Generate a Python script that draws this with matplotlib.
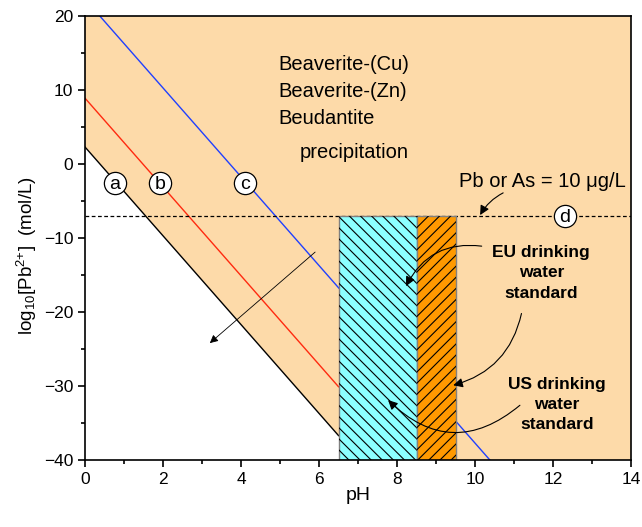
import matplotlib
matplotlib.use('Agg')
import matplotlib.pyplot as plt
from matplotlib.patches import Rectangle, Polygon

plt.rcParams['font.family'] = ['Liberation Sans', 'DejaVu Sans']
plt.rcParams['mathtext.fontset'] = 'custom'
plt.rcParams['mathtext.rm'] = 'Liberation Sans'
plt.rcParams['mathtext.default'] = 'regular'
plt.rcParams['hatch.linewidth'] = 0.8

# boundary lines (pH, log10[Pb2+])
line_a_ph = [0, 6.5]
line_a_log = [2.3, -36.7]
line_b_ph = [0, 6.5]
line_b_log = [8.9, -30.1]
line_c_ph = [0.38, 10.38]
line_c_log = [20, -40]

# precipitation area (above line a)
field_ph = [0, 7.05, 14, 14, 0]
field_log = [2.3, -40, -40, 20, 20]

limit_log = -7   # Pb or As = 10 ug/L
eu_ph = [6.5, 8.5]
us_ph = [8.5, 9.5]

labels = ['a', 'b', 'c', 'd']
label_ph = [0.77, 1.92, 4.1, 12.3]
label_log = [-2.6, -2.6, -2.6, -7]

peach = '#FDDAA9'

fig = plt.figure(figsize=(6.42, 5.27), dpi=100)
ax = fig.add_axes([0.1324, 0.1271, 0.8506, 0.8425])

ax.add_patch(Polygon(list(zip(field_ph, field_log)), closed=True, facecolor=peach, edgecolor='none', zorder=0))

ax.plot(line_c_ph, line_c_log, color='#2040FF', lw=1, zorder=1)
ax.plot(line_b_ph, line_b_log, color='#FF2A10', lw=1, zorder=1)
ax.plot(line_a_ph, line_a_log, color='k', lw=1, zorder=1)

ax.axhline(limit_log, color='k', lw=0.9, ls=(0, (3, 2)), zorder=1)

for (x0, x1), fc, h in [(eu_ph, '#8CFFFF', '\\\\\\'), (us_ph, '#FF9900', '///')]:
    ax.add_patch(Rectangle((x0, -40), x1 - x0, limit_log + 40, facecolor=fc,
                           edgecolor='#808080', lw=1, zorder=2))
    ax.add_patch(Rectangle((x0, -40), x1 - x0, limit_log + 40, facecolor='none',
                           edgecolor='k', lw=0, hatch=h, zorder=2))

for lab, x, y in zip(labels, label_ph, label_log):
    ax.plot(x, y, 'o', ms=16, mfc='white', mec='k', mew=0.9, zorder=4)
    ax.text(x, y - 0.2, lab, ha='center', va='center', fontsize=14, zorder=5)

ax.text(4.95, 13.5, 'Beaverite-(Cu)', fontsize=14.5, va='center')
ax.text(4.95, 9.8, 'Beaverite-(Zn)', fontsize=14.5, va='center')
ax.text(4.95, 6.1, 'Beudantite', fontsize=14.5, va='center')
ax.text(5.5, 1.6, 'precipitation', fontsize=14.5, va='center')
ax.text(11.72, -2.3, 'Pb or As = 10 \u03bcg/L', fontsize=14.5, ha='center', va='center')

ax.text(11.7, -14.7, 'EU drinking\nwater\nstandard', fontsize=12.5, fontweight='bold',
        ha='center', va='center', linespacing=1.45)
ax.text(12.1, -32.5, 'US drinking\nwater\nstandard', fontsize=12.5, fontweight='bold',
        ha='center', va='center', linespacing=1.45)

arrow = dict(arrowstyle='-|>', color='k', lw=0.8, mutation_scale=14, shrinkA=0, shrinkB=0)
ax.annotate('', xy=(10.13, -6.9), xytext=(10.72, -3.9),
            arrowprops=dict(arrow, connectionstyle='arc3,rad=0.15'))
ax.annotate('', xy=(8.23, -16.5), xytext=(10.17, -11.1),
            arrowprops=dict(arrow, connectionstyle='arc3,rad=0.35'))
ax.annotate('', xy=(9.44, -29.9), xytext=(11.19, -20.2),
            arrowprops=dict(arrow, connectionstyle='arc3,rad=-0.3'))
ax.annotate('', xy=(7.77, -31.9), xytext=(11.15, -32.6),
            arrowprops=dict(arrow, connectionstyle='arc3,rad=-0.45'))
ax.annotate('', xy=(3.2, -24.2), xytext=(5.9, -11.9),
            arrowprops=dict(arrow, lw=0.6, mutation_scale=12))

ax.set_xlim(0, 14)
ax.set_ylim(-40, 20)
ax.set_xticks(range(0, 15, 2))
ax.set_xticks(range(1, 14, 2), minor=True)
ax.set_yticks(range(-40, 21, 10))
ax.set_yticks(range(-35, 20, 10), minor=True)
ax.tick_params(which='major', direction='out', length=5, width=1.2, labelsize=12.5)
ax.tick_params(which='minor', direction='out', length=3, width=1.2)
for s in ax.spines.values():
    s.set_linewidth(1.2)

ax.set_xlabel('pH', fontsize=14, labelpad=0)
ax.set_ylabel('log$_{10}$[Pb$^{2{+}}$]  (mol/L)', fontsize=13.5)
ax.yaxis.set_label_coords(-0.084, 0.46)

fig.savefig('out.png', dpi=100)
